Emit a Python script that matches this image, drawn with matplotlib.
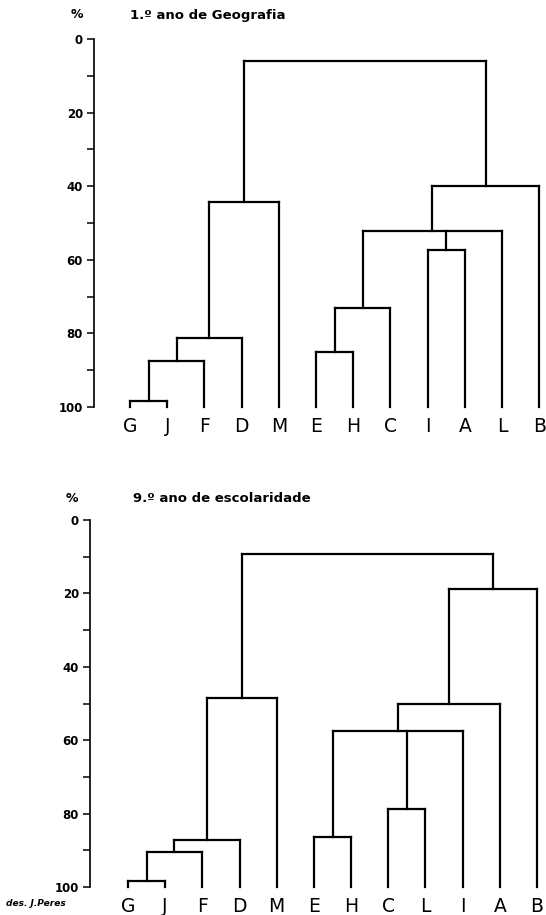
import matplotlib
matplotlib.use("Agg")
import matplotlib.pyplot as plt


W, H = 546, 915

# Similarity dendrograms (height = % similarity at which groups join)
leaves_geo = ["G", "J", "F", "D", "M", "E", "H", "C", "I", "A", "L", "B"]
merges_geo = [
    (["G", "J"], 98.5),
    ([0, "F"], 87.4),
    ([1, "D"], 81.3),
    ([2, "M"], 44.4),
    (["E", "H"], 85.0),
    ([4, "C"], 73.0),
    (["I", "A"], 57.3),
    ([5, 6, "L"], 52.1),
    ([7, "B"], 40.0),
    ([3, 8], 6.0),
]

leaves_esc = ["G", "J", "F", "D", "M", "E", "H", "C", "L", "I", "A", "B"]
merges_esc = [
    (["G", "J"], 98.3),
    ([0, "F"], 90.5),
    ([1, "D"], 87.1),
    ([2, "M"], 48.4),
    (["E", "H"], 86.4),
    (["C", "L"], 78.8),
    ([4, 5, "I"], 57.6),
    ([6, "A"], 50.1),
    ([7, "B"], 18.8),
    ([3, 8], 9.3),
]

y_ticks = [0, 20, 40, 60, 80, 100]
y_minor = [10, 30, 50, 70, 90]


def draw_tree(ax, leaves, merges):
    pos = {name: i for i, name in enumerate(leaves)}
    nodes = []
    kw = dict(color="black", lw=1.6, solid_capstyle="projecting", clip_on=False)
    for members, h in merges:
        kids = [nodes[m] if isinstance(m, int) else (pos[m], 100) for m in members]
        xs = [k[0] for k in kids]
        for kx, ky in kids:
            ax.plot([kx, kx], [ky, h], **kw)
        ax.plot([min(xs), max(xs)], [h, h], **kw)
        nodes.append(((min(xs) + max(xs)) / 2, h))


def panel(rect, leaves, merges, xlim):
    ax = fig.add_axes(rect)
    ax.set_xlim(*xlim)
    ax.set_ylim(100, 0)
    for side in ("top", "right", "bottom"):
        ax.spines[side].set_visible(False)
    ax.spines["left"].set_linewidth(1.2)
    ax.set_yticks(y_ticks)
    ax.set_yticks(y_minor, minor=True)
    ax.tick_params(axis="y", which="both", direction="out", length=5, width=1.1, pad=3)
    for lab in ax.get_yticklabels():
        lab.set_fontweight("bold")
        lab.set_fontsize(8.5)
    ax.set_xticks(range(len(leaves)), labels=leaves)
    ax.tick_params(axis="x", length=0, pad=7, labelsize=13.5)
    draw_tree(ax, leaves, merges)
    return ax


fig = plt.figure(figsize=(W / 100, H / 100), dpi=100, facecolor="white")

# upper panel: axis 0 at y=39px, 100 at y=407px
panel((94 / W, 1 - 407 / H, 1 - 94 / W, (407 - 39) / H),
      leaves_geo, merges_geo, (-0.97, 11.18))
# lower panel: axis 0 at y=520px, 100 at y=887px
panel((90 / W, 1 - 887 / H, 1 - 90 / W, (887 - 520) / H),
      leaves_esc, merges_esc, (-1.02, 11.24))

fig.text(77 / W, 1 - 15 / H, "%", ha="center", va="center", fontsize=9, fontweight="bold")
fig.text(130 / W, 1 - 15 / H, "1.º ano de Geografia", ha="left", va="center",
         fontsize=9.5, fontweight="bold")
fig.text(72 / W, 1 - 498 / H, "%", ha="center", va="center", fontsize=9, fontweight="bold")
fig.text(133 / W, 1 - 498 / H, "9.º ano de escolaridade", ha="left", va="center",
         fontsize=9.5, fontweight="bold")
fig.text(6 / W, 1 - 904 / H, "des. J.Peres", ha="left", va="center",
         fontsize=6.5, fontweight="bold", fontstyle="italic")

fig.savefig("out.png", dpi=100, facecolor="white")
